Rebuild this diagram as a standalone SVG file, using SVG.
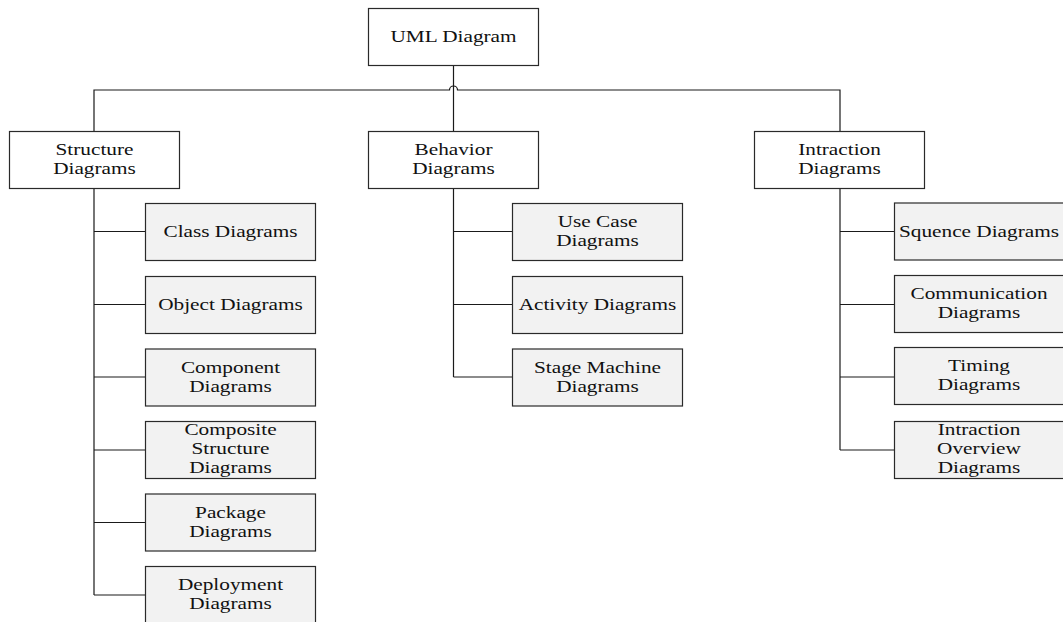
<svg xmlns="http://www.w3.org/2000/svg" width="1063" height="622" viewBox="0 0 1063 622">
<style>
.p{fill:#ffffff;stroke:#2a2a2a;stroke-width:1.2}
.c{fill:#f2f2f2;stroke:#2a2a2a;stroke-width:1.2}
.t{font-family:"Liberation Serif","Times New Roman",serif;font-size:16px;fill:#111;text-anchor:middle}
.l{fill:none;stroke:#1a1a1a;stroke-width:1.2}
</style>
<rect width="1063" height="622" fill="#fff"/>
<g id="connectors">
<path class="l" d="M453.5,65 V131"/>
<path class="l" d="M94,131 V90 H449.5 A4,4 0 0 1 457.5,90 H840 V131"/>
<path class="l" d="M94,188 V595 M94,231.5 H145 M94,304.5 H145 M94,377 H145 M94,450 H145 M94,522.5 H145 M94,595 H145"/>
<path class="l" d="M453.5,188 V377 M453.5,231.5 H512 M453.5,304.5 H512 M453.5,377 H512"/>
<path class="l" d="M840,188 V450 M840,231.5 H894 M840,304.5 H894 M840,377 H894 M840,450 H894"/>
</g>
<g id="uml"><rect class="p" x="368.5" y="8.5" width="170" height="57"/><text class="t" transform="translate(453.5 0) scale(1.33 1)" y="42">UML Diagram</text></g>
<g id="structure"><rect class="p" x="9.5" y="131.5" width="170" height="57"/><text class="t" transform="translate(94.5 0) scale(1.33 1)"><tspan x="0" y="155">Structure</tspan><tspan x="0" y="174">Diagrams</tspan></text></g>
<g id="behavior"><rect class="p" x="368.5" y="131.5" width="170" height="57"/><text class="t" transform="translate(453.5 0) scale(1.33 1)"><tspan x="0" y="155">Behavior</tspan><tspan x="0" y="174">Diagrams</tspan></text></g>
<g id="intraction"><rect class="p" x="754.5" y="131.5" width="170" height="57"/><text class="t" transform="translate(839.5 0) scale(1.33 1)"><tspan x="0" y="155">Intraction</tspan><tspan x="0" y="174">Diagrams</tspan></text></g>

<g id="class"><rect class="c" x="145.5" y="203.5" width="170" height="57"/><text class="t" transform="translate(230.5 0) scale(1.33 1)" y="237.5">Class Diagrams</text></g>
<g id="object"><rect class="c" x="145.5" y="276.5" width="170" height="57"/><text class="t" transform="translate(230.5 0) scale(1.33 1)" y="310.5">Object Diagrams</text></g>
<g id="component"><rect class="c" x="145.5" y="349" width="170" height="57"/><text class="t" transform="translate(230.5 0) scale(1.33 1)"><tspan x="0" y="373">Component</tspan><tspan x="0" y="392">Diagrams</tspan></text></g>
<g id="composite"><rect class="c" x="145.5" y="421.5" width="170" height="57"/><text class="t" transform="translate(230.5 0) scale(1.33 1)"><tspan x="0" y="435">Composite</tspan><tspan x="0" y="454">Structure</tspan><tspan x="0" y="473">Diagrams</tspan></text></g>
<g id="package"><rect class="c" x="145.5" y="494" width="170" height="57"/><text class="t" transform="translate(230.5 0) scale(1.33 1)"><tspan x="0" y="518">Package</tspan><tspan x="0" y="537">Diagrams</tspan></text></g>
<g id="deployment"><rect class="c" x="145.5" y="566.5" width="170" height="57"/><text class="t" transform="translate(230.5 0) scale(1.33 1)"><tspan x="0" y="590">Deployment</tspan><tspan x="0" y="609">Diagrams</tspan></text></g>

<g id="usecase"><rect class="c" x="512.5" y="203.5" width="170" height="57"/><text class="t" transform="translate(597.5 0) scale(1.33 1)"><tspan x="0" y="227.5">Use Case</tspan><tspan x="0" y="246.5">Diagrams</tspan></text></g>
<g id="activity"><rect class="c" x="512.5" y="276.5" width="170" height="57"/><text class="t" transform="translate(597.5 0) scale(1.33 1)" y="310.5">Activity Diagrams</text></g>
<g id="statemachine"><rect class="c" x="512.5" y="349" width="170" height="57"/><text class="t" transform="translate(597.5 0) scale(1.33 1)"><tspan x="0" y="373">Stage Machine</tspan><tspan x="0" y="392">Diagrams</tspan></text></g>

<g id="sequence"><rect class="c" x="894.5" y="203" width="170" height="57"/><text class="t" transform="translate(979 0) scale(1.33 1)" y="237">Squence Diagrams</text></g>
<g id="communication"><rect class="c" x="894.5" y="275.5" width="170" height="57"/><text class="t" transform="translate(979 0) scale(1.33 1)"><tspan x="0" y="299.5">Communication</tspan><tspan x="0" y="318.5">Diagrams</tspan></text></g>
<g id="timing"><rect class="c" x="894.5" y="347.5" width="170" height="57"/><text class="t" transform="translate(979 0) scale(1.33 1)"><tspan x="0" y="371.5">Timing</tspan><tspan x="0" y="390.5">Diagrams</tspan></text></g>
<g id="overview"><rect class="c" x="894.5" y="421.5" width="170" height="57"/><text class="t" transform="translate(979 0) scale(1.33 1)"><tspan x="0" y="435">Intraction</tspan><tspan x="0" y="454">Overview</tspan><tspan x="0" y="473">Diagrams</tspan></text></g>
</svg>
